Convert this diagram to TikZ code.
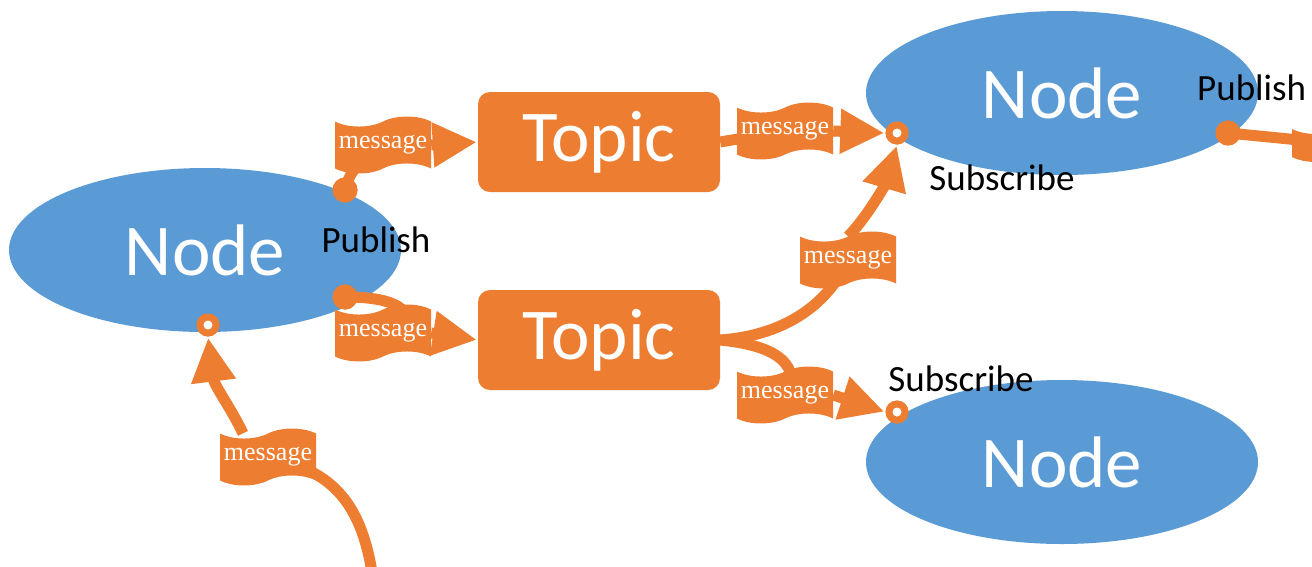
\documentclass[tikz,border=0pt]{standalone}
\usepackage{fontspec}
\setmainfont{Carlito}
\newfontfamily\msgfont{Liberation Serif}
\usetikzlibrary{shapes.geometric,shapes.symbols,arrows.meta}
\definecolor{nodeblue}{HTML}{5B9BD5}
\definecolor{orng}{HTML}{ED7D31}
\begin{document}
\begin{tikzpicture}[x=1pt,y=-1pt,
  rosnode/.style={ellipse, fill=nodeblue, minimum width=392pt, minimum height=164pt, inner sep=0pt, text=white, font=\fontsize{73}{80}\selectfont},
  topicbox/.style={rectangle, rounded corners=12pt, fill=orng, minimum width=242pt, minimum height=100pt, inner sep=0pt, text=white, font=\fontsize{73}{80}\selectfont},
  conn/.style={draw=orng, line width=11pt},
  tip/.style={-{Triangle[length=44pt,width=42pt]}, shorten >=1pt},
  banner/.style={tape, fill=orng, minimum width=96pt, inner xsep=3pt, inner ysep=9pt, text=white, font=\msgfont\fontsize{26}{26}\selectfont, tape bend height=10pt},
  pubdot/.style={circle, fill=orng, minimum size=25pt, inner sep=0pt},
  subring/.style={circle, fill=orng, minimum size=23pt, inner sep=0pt, path picture={\fill[white] (path picture bounding box.center) circle (4.5pt);}},
  lbl/.style={text=black, font=\fontsize{37}{40}\selectfont, inner sep=0pt}
]
\useasboundingbox[fill=white] (0,0) rectangle (1312,566);
% ROS nodes
\node[rosnode] (L) at (205,250) {Node};
\node[rosnode] (TR) at (1062,93) {Node};
\node[rosnode] (BR) at (1062,462) {Node};
% topics
\node[topicbox] (T1) at (599,142) {Topic};
\node[topicbox] (T2) at (599,340) {Topic};
% endpoints
\coordinate (bot) at (372,572);
\node[pubdot] (d1) at (345,190) {};
\node[pubdot] (d2) at (345,297) {};
\node[pubdot] (d7) at (1228,133) {};
\node[subring] (r3) at (897,133) {};
\node[subring] (r5) at (897,412) {};
\node[subring] (r6) at (208,325) {};
% connectors behind banners
\draw[conn] (d1.center) .. controls (350,170) and (360,160) .. (383,145);
\draw[conn] (d2.center) .. controls (385,297) and (415,305) .. (405,330);
\draw[conn] (T1.east) -- (785,131);
\draw[conn] (T2.east) .. controls (790,335) and (830,300) .. (848,260);
\draw[conn] (T2.east) .. controls (770,345) and (800,360) .. (790,395);
\draw[conn] (bot) .. controls (360,500) and (330,470) .. (268,457);
\draw[conn] (d7.center) -- (1330,143);
% banners
\node[banner] (B1) at (383,145) {message};
\node[banner] (B2) at (383,333) {message};
\node[banner] (B3) at (785,131) {message};
\node[banner] (B4) at (848,260) {message};
\node[banner] (B5) at (785,395) {message};
\node[banner] (B6) at (268,457) {message};
\node[banner] (B7) at (1340,143) {};
% arrows from banners
\draw[conn,tip] (B1.east) -- (T1.west);
\draw[conn,tip] (B2.east) -- (T2.west);
\draw[conn,tip] (B3.east) -- (r3.west);
\draw[conn,tip] (B4.north) .. controls (865,220) and (885,185) .. (r3.south);
\draw[conn,tip] (B5.east) -- (r5.west);
\draw[conn,tip] ([xshift=-25pt]B6.north) .. controls (232,410) and (214,385) .. (r6.south);
% redraw points on top
\node[pubdot] at (d1) {};
\node[pubdot] at (d2) {};
\node[pubdot] at (d7) {};
\node[subring] at (r3) {};
\node[subring] at (r5) {};
\node[subring] at (r6) {};
% labels
\node[lbl] (pub1) at (376,240) {Publish};
\node[lbl] (sub1) at (1002,178) {Subscribe};
\node[lbl] (sub2) at (961,379) {Subscribe};
\node[lbl, anchor=west] (pub2) at (1197,88) {Publish};
\end{tikzpicture}
\end{document}
